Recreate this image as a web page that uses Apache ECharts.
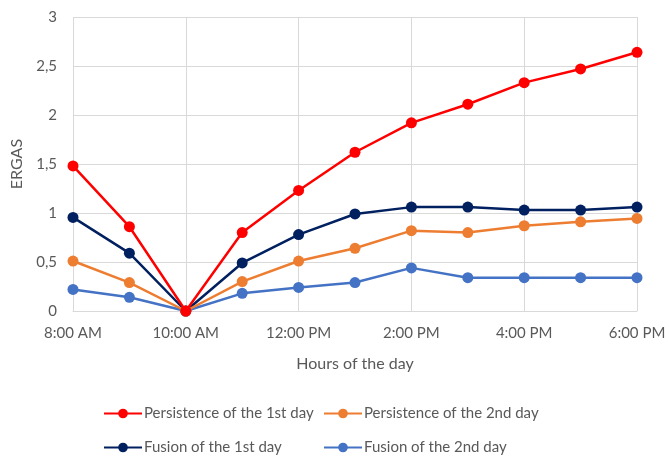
<!DOCTYPE html>
<html>
<head>
<meta charset="utf-8">
<script src="https://cdn.jsdelivr.net/npm/echarts@6/dist/echarts.min.js"></script>
<style>
  html, body { margin: 0; padding: 0; background: #fff; }
  #chart { width: 669px; height: 457px; }
</style>
</head>
<body>
<div id="chart"></div>
<script>
// Hourly categories along the x axis
const hours = ['8:00 AM', '9:00 AM', '10:00 AM', '11:00 AM', '12:00 PM', '1:00 PM',
               '2:00 PM', '3:00 PM', '4:00 PM', '5:00 PM', '6:00 PM'];

// ERGAS values per hour
const persistenceDay1 = [1.48, 0.86, 0, 0.80, 1.23, 1.62, 1.92, 2.11, 2.33, 2.47, 2.64];
const persistenceDay2 = [0.51, 0.29, 0, 0.30, 0.51, 0.64, 0.82, 0.80, 0.87, 0.91, 0.945];
const fusionDay1      = [0.955, 0.59, 0, 0.49, 0.78, 0.99, 1.06, 1.06, 1.03, 1.03, 1.06];
const fusionDay2      = [0.22, 0.14, 0, 0.18, 0.24, 0.29, 0.44, 0.34, 0.34, 0.34, 0.34];

const seriesNames = ['Persistence of the 1st day', 'Persistence of the 2nd day',
                     'Fusion of the 1st day', 'Fusion of the 2nd day'];
const seriesColors = ['#FF0000', '#ED7D31', '#002060', '#4472C4'];
const seriesData = [persistenceDay1, persistenceDay2, fusionDay1, fusionDay2];

const font = 'Lato, "Open Sans", sans-serif';
const textColor = '#595959';

const chart = echarts.init(document.getElementById('chart'));

const legendPos = [
  { left: 98, top: 401 },
  { left: 318, top: 401 },
  { left: 98, top: 435 },
  { left: 318, top: 435 }
];

chart.setOption({
  animation: false,
  grid: { left: 73, right: 32, top: 17, bottom: 146 },
  legend: seriesNames.map((name, i) => ({
    data: [name],
    left: legendPos[i].left,
    top: legendPos[i].top,
    itemWidth: 38,
    itemHeight: 12,
    itemGap: 4,
    textStyle: { color: textColor, fontSize: 15, fontFamily: font, padding: [0, 0, 0, -3] }
  })),
  xAxis: {
    type: 'category',
    data: hours,
    boundaryGap: false,
    name: 'Hours of the day',
    nameLocation: 'middle',
    nameGap: 45,
    nameTextStyle: { color: textColor, fontSize: 16, fontFamily: font },
    axisLine: { lineStyle: { color: '#d9d9d9' } },
    axisTick: { show: false },
    axisLabel: { interval: 1, color: textColor, fontSize: 15, fontFamily: font, margin: 15 },
    splitLine: { show: true, interval: 1, lineStyle: { color: '#d9d9d9' } }
  },
  yAxis: {
    type: 'value',
    min: 0,
    max: 3,
    interval: 0.5,
    name: 'ERGAS',
    nameLocation: 'middle',
    nameGap: 48,
    nameTextStyle: { color: textColor, fontSize: 16, fontFamily: font },
    axisLine: { show: false },
    axisTick: { show: false },
    axisLabel: {
      color: textColor, fontSize: 15, fontFamily: font, margin: 16,
      formatter: v => String(v).replace('.', ',')
    },
    splitLine: { lineStyle: { color: '#d9d9d9' } }
  },
  series: seriesNames.map((name, i) => ({
    name,
    type: 'line',
    data: seriesData[i],
    color: seriesColors[i],
    symbol: 'circle',
    symbolSize: 11,
    lineStyle: { width: 2.5 },
    z: 10 - i
  }))
});
</script>
</body>
</html>
